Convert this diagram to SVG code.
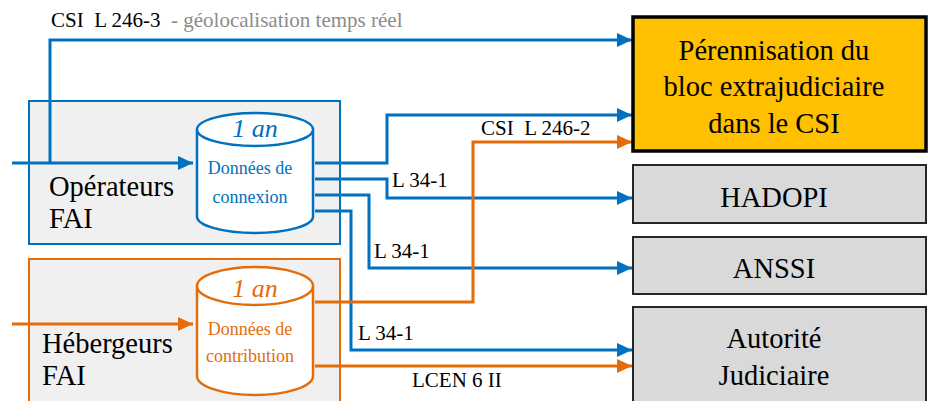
<svg xmlns="http://www.w3.org/2000/svg" width="935" height="401" viewBox="0 0 935 401">
<style>
text{white-space:pre}
.big{font-size:28.5px;fill:#000}
.lbl{font-size:21px;fill:#000}
.gray{fill:#8c8c8c}
.b{stroke:#0070c0;stroke-width:3;fill:none}
.o{stroke:#e46c0a;stroke-width:3;fill:none}
.cb{stroke:#0070c0;stroke-width:2.5;fill:#fff}
.co{stroke:#e46c0a;stroke-width:2.5;fill:#fff}
.tb{fill:#0070c0}
.to{fill:#e46c0a}
.an{font-size:26px;font-style:italic}
.dd{font-size:18px}
.gbox{fill:#d9d9d9;stroke:#262626;stroke-width:2}
</style>
<defs>
<marker id="ab" markerWidth="15" markerHeight="14" refX="15" refY="7" orient="auto" markerUnits="userSpaceOnUse"><path d="M0,0L15,7L0,14z" fill="#0070c0"/></marker>
<marker id="ao" markerWidth="15" markerHeight="14" refX="15" refY="7" orient="auto" markerUnits="userSpaceOnUse"><path d="M0,0L15,7L0,14z" fill="#e46c0a"/></marker>
</defs>
<rect width="935" height="401" fill="#fff"/>
<g font-family="Liberation Serif, serif">
<g id="operateurs">
<rect x="29" y="101" width="311" height="143" fill="#f0f0f0" stroke="#0070c0" stroke-width="2"/>
<text class="big" x="49" y="196">Opérateurs</text>
<text class="big" x="49" y="228">FAI</text>
</g>
<g id="hebergeurs">
<rect x="29" y="259" width="311" height="160" fill="#f0f0f0" stroke="#e46c0a" stroke-width="2"/>
<text class="big" x="42" y="353">Hébergeurs</text>
<text class="big" x="42" y="385">FAI</text>
</g>

<g id="connectors">
<path class="b" d="M12,163H193" marker-end="url(#ab)"/>
<path class="b" d="M50,163V40H632" marker-end="url(#ab)"/>
<path class="b" d="M315,163H387V115H632" marker-end="url(#ab)"/>
<path class="b" d="M315,179H387V198H632" marker-end="url(#ab)"/>
<path class="b" d="M315,195H369V268H632" marker-end="url(#ab)"/>
<path class="b" d="M315,211H351V350H632" marker-end="url(#ab)"/>
<path class="o" d="M12,324H193" marker-end="url(#ao)"/>
<path class="o" d="M315,302H473V142H632" marker-end="url(#ao)"/>
<path class="o" d="M315,366H632" marker-end="url(#ao)"/>
<text class="lbl" x="51" y="27">CSI  L 246-3  <tspan class="gray">- géolocalisation temps réel</tspan></text>
<text class="lbl" x="481" y="135">CSI  L 246-2</text>
<text class="lbl" x="392" y="187">L 34-1</text>
<text class="lbl" x="374" y="258">L 34-1</text>
<text class="lbl" x="358" y="340">L 34-1</text>
<text class="lbl" x="412" y="387">LCEN 6 II</text>
</g>

<g id="donnees-connexion">
<path class="cb" d="M197,129.5V216.5A58,16.5 0 0 0 313,216.5V129.5"/>
<ellipse class="cb" cx="255" cy="129.5" rx="58" ry="16.5"/>
<text class="tb an" x="255" y="137" text-anchor="middle">1 an</text>
<text class="tb dd" x="250" y="174" text-anchor="middle">Données de</text>
<text class="tb dd" x="250" y="203" text-anchor="middle">connexion</text>
</g>

<g id="donnees-contribution">
<path class="co" d="M197,286V376A58,19 0 0 0 313,376V286"/>
<ellipse class="co" cx="255" cy="286" rx="58" ry="19"/>
<text class="to an" x="255" y="297" text-anchor="middle">1 an</text>
<text class="to dd" x="250" y="335" text-anchor="middle">Données de</text>
<text class="to dd" x="250" y="362" text-anchor="middle">contribution</text>
</g>

<g id="perennisation">
<rect x="633" y="17" width="293" height="134" fill="#ffc000" stroke="#000" stroke-width="3.5"/>
<text class="big" x="774" y="60" text-anchor="middle">Pérennisation du</text>
<text class="big" x="774" y="96" text-anchor="middle">bloc extrajudiciaire</text>
<text class="big" x="774" y="133" text-anchor="middle">dans le CSI</text>
</g>
<g id="hadopi">
<rect class="gbox" x="633" y="165" width="293" height="58"/>
<text class="big" x="774" y="207" text-anchor="middle">HADOPI</text>
</g>
<g id="anssi">
<rect class="gbox" x="633" y="237" width="293" height="57"/>
<text class="big" x="774" y="278" text-anchor="middle">ANSSI</text>
</g>
<g id="autorite">
<rect class="gbox" x="633" y="307" width="293" height="110"/>
<text class="big" x="774" y="348" text-anchor="middle">Autorité</text>
<text class="big" x="774" y="385" text-anchor="middle">Judiciaire</text>
</g>
</g>
</svg>
